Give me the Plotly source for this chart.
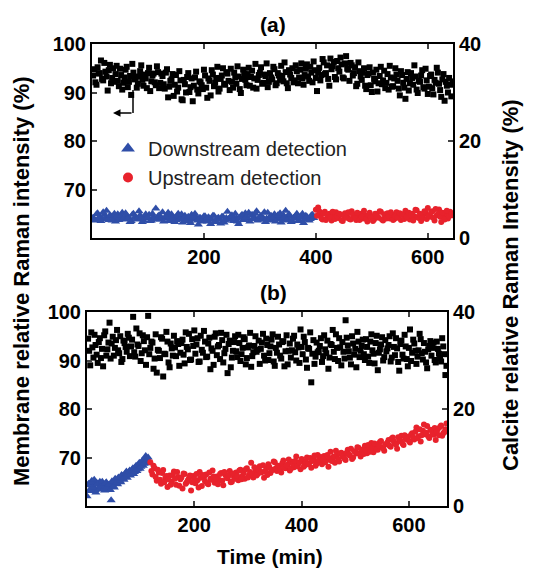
import plotly.graph_objects as go

# ---------------- data ----------------
# Panel (a): membrane relative Raman intensity (%)
# first sweep t = 2, 6, ..., 642 min ; second sweep t = 4, 8, ..., 644 min
mem_a = [
    93.5, 92.1, 95.2, 94.0, 92.8, 96.1, 93.3, 94.6, 91.9, 95.0,
    93.8, 92.4, 94.9, 90.6, 93.1, 95.3, 92.2, 89.5, 94.1, 93.0,
    91.8, 94.4, 92.6, 93.7, 90.9, 95.1, 92.3, 93.9, 91.5, 94.2,
    92.0, 93.4, 90.8, 94.8, 91.2, 92.7, 89.3, 93.6, 91.0, 92.5,
    88.4, 91.7, 93.2, 90.1, 92.9, 91.4, 94.3, 89.8, 92.1, 90.7,
    93.5, 88.9, 92.4, 94.6, 91.3, 93.0, 90.2, 92.8, 95.0, 91.6,
    93.9, 90.5, 92.2, 94.1, 91.8, 93.3, 89.9, 94.7, 92.6, 93.8,
    91.4, 94.5, 92.9, 90.8, 93.6, 95.2, 92.0, 93.4, 91.1, 94.0,
    92.7, 94.8, 91.9, 93.5, 95.5, 92.3, 94.2, 90.9, 93.7, 95.0,
    92.5, 94.4, 93.1, 96.0, 91.6, 94.9, 93.3, 95.3, 92.1, 94.6,
    90.3, 95.1, 93.6, 96.2, 94.0, 92.8, 97.0, 95.4, 93.2, 96.5,
    94.3, 95.8, 92.9, 97.5, 94.7, 96.1, 93.5, 95.2, 91.8, 94.4,
    92.6, 95.0, 90.7, 93.9, 91.5, 94.1, 92.3, 90.2, 93.4, 91.7,
    94.5, 92.0, 90.6, 93.1, 91.3, 95.0, 92.4, 89.4, 93.6, 91.0,
    92.8, 90.4, 94.0, 91.6, 93.3, 89.9, 92.2, 94.6, 90.8, 92.5,
    91.2, 93.7, 89.6, 92.0, 94.1, 90.5, 92.7, 88.3, 91.4, 93.0,
    89.2,
]
mem_a2 = [
    94.8, 91.6, 93.9, 96.6, 92.5, 94.3, 90.4, 95.7, 93.0, 92.2,
    95.5, 91.3, 93.6, 92.0, 94.7, 91.1, 93.4, 95.9, 92.7, 91.0,
    93.3, 95.6, 91.4, 92.9, 94.0, 90.3, 93.5, 92.1, 95.4, 90.9,
    93.9, 91.7, 94.1, 89.0, 92.4, 93.8, 91.6, 90.2, 94.4, 88.6,
    92.6, 90.0, 94.0, 91.1, 88.2, 93.1, 90.6, 92.3, 91.5, 94.7,
    91.0, 92.9, 89.4, 93.7, 92.0, 95.3, 90.8, 93.5, 91.8, 94.2,
    92.4, 94.9, 91.0, 93.1, 95.4, 90.7, 92.8, 93.9, 91.5, 95.1,
    93.2, 91.0, 95.9, 92.6, 94.1, 91.8, 93.7, 96.0, 92.2, 93.1,
    95.3, 91.5, 94.0, 92.6, 93.4, 96.2, 91.9, 94.6, 93.0, 92.1,
    95.6, 91.9, 94.7, 92.9, 93.6, 95.8, 92.4, 94.1, 96.4, 93.0,
    94.2, 92.5, 96.9, 93.8, 95.6, 91.4, 94.8, 96.3, 92.7, 95.0,
    97.2, 93.1, 96.0, 94.9, 92.4, 95.6, 94.0, 91.3, 96.2, 93.3,
    94.1, 91.4, 93.6, 95.2, 90.1, 92.8, 94.7, 91.9, 95.3, 92.5,
    90.9, 93.8, 95.5, 91.2, 92.9, 93.7, 90.8, 94.4, 92.0, 88.7,
    94.2, 91.9, 93.0, 95.6, 90.6, 92.4, 93.5, 91.1, 94.9, 89.7,
    93.4, 90.9, 92.6, 95.1, 91.8, 89.1, 93.8, 92.2, 90.0, 91.6,
    92.3,
]
t_mem_a = [2 + 4 * i for i in range(len(mem_a))]
t_mem_a2 = [4 + 4 * i for i in range(len(mem_a2))]

# Panel (a): calcite relative Raman intensity (%)
# downstream detection: t = 2..394 and 4..396 ; upstream detection: t = 400..644 and 402..642
cal_down_a = [
    4.2, 3.6, 5.1, 4.4, 3.9, 4.8, 5.6, 3.7, 4.5, 4.0,
    3.4, 4.9, 4.3, 5.2, 3.8, 4.6, 4.1, 3.5, 5.0, 4.2,
    3.9, 4.7, 3.3, 4.4, 4.0, 4.8, 3.6, 4.3, 6.1, 4.5,
    3.8, 5.3, 4.1, 4.7, 3.5, 4.9, 4.2, 3.7, 5.0, 4.4,
    3.2, 4.6, 4.0, 3.6, 4.8, 3.9, 4.3, 2.8, 4.1, 3.7,
    4.5, 3.4, 4.0, 3.8, 4.6, 3.3, 4.2, 3.0, 4.4, 3.6,
    5.4, 3.9, 4.7, 3.5, 4.1, 2.9, 4.5, 3.7, 5.1, 4.0,
    3.4, 4.8, 4.3, 5.5, 3.8, 4.6, 4.1, 3.3, 5.2, 4.4,
    3.6, 4.9, 3.9, 4.2, 3.2, 4.7, 5.6, 3.8, 4.5, 3.5,
    4.3, 5.0, 3.7, 4.4, 3.1, 4.6, 4.0, 3.9, 4.8,
]
cal_down_a2 = [
    3.8, 4.9, 4.1, 3.5, 5.3, 4.2, 3.9, 4.7, 3.6, 5.0,
    4.4, 3.7, 4.6, 3.9, 5.1, 4.0, 3.3, 4.8, 4.2, 3.8,
    5.5, 4.1, 3.6, 4.9, 4.3, 3.5, 5.0, 4.0, 3.8, 4.7,
    4.2, 3.4, 4.5, 5.2, 3.9, 4.1, 3.3, 4.6, 3.8, 4.9,
    4.0, 3.5, 4.4, 3.1, 4.2, 5.0, 3.6, 4.1, 3.4, 4.5,
    3.7, 4.3, 2.9, 4.6, 3.5, 4.0, 3.8, 4.4, 3.2, 4.1,
    3.9, 4.5, 3.6, 5.0, 3.4, 4.2, 4.8, 3.8, 4.3, 5.2,
    4.6, 3.9, 5.0, 3.6, 4.4, 3.8, 5.3, 4.0, 3.7, 4.6,
    4.2, 3.4, 4.7, 5.1, 3.9, 4.3, 3.6, 4.9, 3.3, 4.1,
    4.6, 3.5, 4.2, 5.0, 3.8, 4.4, 3.6, 4.7, 4.1,
]
t_down_a = [2 + 4 * i for i in range(len(cal_down_a))]
t_down_a2 = [4 + 4 * i for i in range(len(cal_down_a2))]

cal_up_a = [
    5.8, 6.3, 4.9, 3.8, 5.4, 4.2, 5.0, 3.6, 4.7, 5.3,
    4.1, 4.8, 3.5, 5.1, 4.4, 3.9, 5.5, 4.6, 3.7, 4.3,
    5.0, 4.0, 4.7, 3.4, 5.2, 4.5, 3.8, 4.9, 4.2, 5.4,
    3.6, 4.4, 5.1, 4.0, 4.8, 3.9, 5.3, 4.6, 3.7, 4.9,
    5.6, 4.3, 3.8, 5.0, 4.5, 5.7, 4.1, 3.5, 4.8, 5.2,
    6.2, 4.4, 5.5, 3.6, 4.7, 5.9, 3.3, 4.6, 5.1, 4.0,
    5.4, 4.7,
]
cal_up_a2 = [
    4.6, 5.5, 4.0, 5.1, 3.7, 4.8, 4.3, 5.4, 3.9, 4.5,
    5.0, 3.6, 4.6, 4.2, 5.3, 3.8, 4.9, 4.1, 5.2, 3.7,
    4.4, 5.6, 3.9, 4.7, 4.3, 3.5, 5.0, 4.4, 5.5, 3.8,
    4.9, 4.0, 4.6, 5.3, 3.7, 4.5, 4.2, 5.1, 4.8, 3.9,
    4.4, 5.2, 4.7, 3.6, 5.8, 4.3, 5.0, 4.1, 5.5, 3.9,
    4.6, 5.3, 4.2, 6.0, 4.9, 4.4, 5.2, 3.8, 5.6, 4.5,
    4.9,
]
t_up_a = [400 + 4 * i for i in range(len(cal_up_a))]
t_up_a2 = [402 + 4 * i for i in range(len(cal_up_a2))]

# Panel (b): membrane relative Raman intensity (%)
# t = 2, 6, ..., 670 min and t = 4, 8, ..., 668 min
mem_b = [
    94.5, 89.0, 92.7, 95.3, 91.2, 93.8, 90.5, 88.8, 96.0, 92.3,
    97.8, 93.5, 91.0, 94.2, 92.1, 95.0, 90.3, 93.6, 91.8, 94.7,
    92.9, 99.0, 90.8, 93.3, 95.6, 91.5, 94.0, 89.1, 99.2, 92.6,
    93.7, 90.4, 87.5, 92.0, 94.8, 86.7, 91.3, 93.9, 88.6, 92.5,
    95.1, 90.9, 93.4, 91.6, 94.3, 89.4, 92.8, 95.5, 90.2, 93.0,
    91.4, 94.6, 89.8, 92.2, 96.1, 90.7, 93.5, 88.2, 92.0, 94.9,
    91.1, 93.2, 95.7, 89.6, 92.4, 87.4, 94.1, 90.6, 93.8, 91.9,
    95.3, 89.9, 92.6, 94.4, 90.5, 93.1, 88.7, 91.7, 95.0, 92.2,
    89.3, 93.7, 91.0, 94.5, 90.1, 92.9, 95.4, 88.9, 91.6, 93.3,
    90.4, 94.0, 91.9, 89.2, 93.5, 92.1, 95.1, 90.0, 92.7, 96.4,
    91.3, 93.8, 88.5, 92.4, 85.5, 94.2, 90.8, 91.7, 93.0, 89.7,
    95.2, 91.5, 88.3, 93.4, 96.3, 90.3, 92.6, 94.6, 89.0, 91.8,
    98.3, 93.1, 90.6, 95.0, 91.2, 88.6, 93.9, 92.0, 94.3, 90.1,
    92.8, 89.5, 95.4, 91.4, 93.6, 88.0, 92.3, 94.8, 90.7, 91.9,
    93.2, 89.8, 95.6, 91.1, 92.5, 87.9, 94.1, 90.4, 92.9, 88.8,
    96.4, 91.6, 93.5, 89.3, 92.1, 94.4, 90.2, 91.8, 88.4, 93.0,
    91.0, 93.7, 89.6, 92.4, 90.5, 94.6, 91.3, 88.9,
]
mem_b2 = [
    92.0, 95.8, 90.6, 93.2, 89.5, 94.6, 92.4, 95.2, 91.0, 93.7,
    90.4, 94.9, 92.6, 96.3, 91.5, 89.7, 94.1, 92.8, 95.5, 90.9,
    94.3, 91.7, 96.6, 93.0, 89.9, 95.2, 92.1, 94.8, 91.3, 93.9,
    88.3, 95.4, 92.2, 90.5, 94.5, 91.4, 95.9, 89.6, 93.5, 91.0,
    92.7, 94.0, 88.9, 93.6, 91.2, 95.8, 92.3, 90.1, 94.4, 96.2,
    93.3, 89.7, 95.1, 91.6, 93.9, 90.8, 94.7, 92.5, 89.1, 95.6,
    92.9, 90.3, 94.2, 91.5, 95.3, 93.4, 88.6, 92.0, 95.0, 90.7,
    93.6, 91.3, 94.8, 89.2, 92.7, 95.7, 90.9, 93.0, 91.8, 94.1,
    92.4, 95.5, 90.0, 93.2, 91.5, 94.3, 89.8, 92.6, 94.9, 91.0,
    93.8, 88.8, 95.2, 92.0, 90.6, 94.5, 91.7, 93.3, 89.5, 92.8,
    94.9, 90.2, 92.6, 95.8, 91.4, 89.3, 93.7, 92.0, 94.6, 90.9,
    92.3, 94.1, 90.6, 93.2, 91.8, 95.4, 89.9, 92.7, 93.8, 90.4,
    94.7, 91.9, 89.2, 93.5, 92.4, 95.9, 90.7, 93.0, 91.3, 94.4,
    90.8, 93.9, 92.1, 89.4, 95.1, 91.6, 93.3, 90.0, 94.2, 92.5,
    95.0, 90.6, 92.8, 94.6, 89.7, 93.4, 91.2, 95.3, 90.3, 92.6,
    89.9, 94.3, 92.0, 90.8, 95.5, 91.5, 93.6, 89.6, 92.3, 94.0,
    92.6, 90.1, 93.9, 91.4, 89.8, 92.9, 87.0,
]
t_mem_b = [2 + 4 * i for i in range(len(mem_b))]
t_mem_b2 = [4 + 4 * i for i in range(len(mem_b2))]

# Panel (b): calcite
# downstream: t = 0, 3, ..., 114 and 1.5, 4.5, ..., 112.5 ; upstream: t = 118..670 and 120..668
cal_down_b = [
    2.0, 4.6, 3.5, 5.2, 4.0, 3.3, 4.8, 3.7, 5.0, 3.9,
    4.4, 3.2, 4.9, 3.6, 4.2, 1.2, 4.7, 3.8, 5.3, 4.5,
    5.6, 4.9, 6.2, 5.4, 6.8, 5.8, 7.0, 6.3, 7.5, 6.6,
    8.0, 7.2, 8.5, 7.7, 9.1, 8.3, 9.6, 8.8, 10.0,
]
cal_down_b2 = [
    4.3, 3.1, 4.9, 3.8, 5.4, 2.8, 4.5, 3.4, 4.1, 5.0,
    3.6, 4.7, 3.9, 4.4, 3.3, 5.1, 4.0, 5.6, 4.8, 5.9,
    5.2, 6.4, 5.7, 6.0, 7.1, 6.5, 7.3, 6.8, 7.8, 7.0,
    8.3, 7.6, 8.9, 8.1, 9.4, 8.7, 10.3, 9.7,
]
t_down_b = [3 * i for i in range(len(cal_down_b))]
t_down_b2 = [1.5 + 3 * i for i in range(len(cal_down_b2))]

cal_up_b = [
    9.0, 6.5, 7.8, 5.2, 6.9, 4.6, 7.4, 5.8, 3.9, 6.3,
    5.0, 7.1, 4.4, 6.0, 5.5, 3.6, 6.6, 4.9, 5.7, 3.2,
    6.2, 4.7, 5.3, 7.0, 4.1, 5.9, 6.5, 4.5, 5.6, 7.3,
    4.8, 6.1, 5.4, 6.8, 4.3, 6.4, 5.7, 7.2, 5.0, 6.0,
    6.9, 5.3, 7.5, 6.2, 5.6, 7.8, 6.4, 8.9, 5.9, 7.1,
    6.6, 8.2, 7.0, 5.8, 7.7, 8.6, 6.8, 7.4, 9.0, 7.2,
    8.1, 6.9, 9.4, 7.8, 8.5, 7.3, 9.1, 8.0, 10.2, 8.7,
    7.6, 9.3, 8.4, 10.0, 8.8, 7.9, 9.6, 8.3, 10.5, 9.1,
    8.6, 10.3, 9.4, 8.1, 11.2, 9.8, 8.9, 10.6, 9.2, 11.0,
    10.1, 9.5, 11.6, 10.4, 9.7, 11.3, 10.8, 12.0, 10.2, 11.5,
    12.4, 10.9, 11.8, 13.0, 11.1, 12.3, 11.6, 13.2, 12.1, 11.4,
    12.8, 13.6, 12.2, 14.1, 12.9, 11.8, 13.4, 14.5, 12.6, 13.8,
    14.3, 13.1, 15.0, 13.7, 16.2, 14.4, 13.3, 15.5, 14.8, 16.5,
    14.0, 15.6, 14.7, 13.6, 15.9, 16.3, 14.5, 15.2, 17.0,
]
cal_up_b2 = [
    7.2, 8.3, 6.0, 7.5, 5.4, 6.8, 4.9, 6.2, 5.5, 4.4,
    6.4, 5.6, 7.0, 4.2, 5.9, 6.7, 4.6, 5.3, 6.3, 4.9,
    5.5, 6.6, 3.8, 5.8, 6.4, 5.1, 4.7, 6.9, 5.4, 6.1,
    5.7, 4.5, 6.6, 5.2, 7.0, 5.8, 6.3, 4.9, 6.7, 5.6,
    6.2, 7.3, 5.5, 6.8, 7.6, 5.9, 7.0, 6.5, 8.0, 6.3,
    7.5, 6.9, 8.4, 7.1, 6.4, 8.0, 7.4, 9.2, 7.8, 8.3,
    7.4, 8.8, 7.9, 8.4, 9.6, 7.7, 8.6, 9.3, 8.2, 9.0,
    9.7, 8.1, 9.0, 8.6, 9.9, 9.3, 10.4, 8.7, 9.5, 10.1,
    9.6, 9.0, 10.5, 9.9, 9.3, 10.2, 11.4, 9.7, 10.8, 10.3,
    9.8, 11.0, 10.6, 11.8, 10.0, 11.2, 12.1, 10.9, 11.6, 10.7,
    11.5, 12.6, 11.2, 12.0, 12.9, 11.7, 12.5, 13.4, 11.9, 12.7,
    13.1, 12.4, 13.9, 13.3, 12.7, 14.2, 13.5, 12.9, 14.6, 13.9,
    13.4, 14.7, 14.1, 15.3, 14.0, 15.8, 14.6, 16.8, 15.1, 14.4,
    15.7, 14.9, 16.1, 15.3, 14.6, 16.6, 15.0, 15.8,
]
t_up_b = [118 + 4 * i for i in range(len(cal_up_b))]
t_up_b2 = [120 + 4 * i for i in range(len(cal_up_b2))]

mem_ticks = [70, 80, 90, 100]
cal_ticks = [0, 20, 40]
time_ticks = [200, 400, 600]
legend_names = ["Downstream detection", "Upstream detection"]

# ---------------- styling ----------------
# the page body keeps an 8 px default margin, so the figure is drawn 8 px in
PAGE_OFF = 8
W, H = 547 - PAGE_OFF, 569 - PAGE_OFF
FONT = "Liberation Sans, Arial, sans-serif"
BLUE = "#2f4ea8"
RED = "#e8222c"
BLACK = "#000000"


def px_x(p):
    return (p - PAGE_OFF) / W


def px_y(p):
    return 1 - (p - PAGE_OFF) / H


fig = go.Figure()

sq = dict(symbol="square", size=6, color=BLACK)
tri = dict(symbol="triangle-up", size=8, color=BLUE)
cir = dict(symbol="circle", size=6, color=RED)

# membrane (left axes)
fig.add_trace(go.Scatter(x=t_mem_a + t_mem_a2, y=mem_a + mem_a2, mode="markers",
                         xaxis="x", yaxis="y", marker=sq, showlegend=False))
fig.add_trace(go.Scatter(x=t_mem_b + t_mem_b2, y=mem_b + mem_b2, mode="markers",
                         xaxis="x2", yaxis="y3", marker=sq, showlegend=False))
# calcite (right axes)
fig.add_trace(go.Scatter(x=t_down_a + t_down_a2, y=cal_down_a + cal_down_a2, mode="markers",
                         xaxis="x", yaxis="y2", marker=tri, showlegend=False))
fig.add_trace(go.Scatter(x=t_up_a + t_up_a2, y=cal_up_a + cal_up_a2, mode="markers",
                         xaxis="x", yaxis="y2", marker=cir, showlegend=False))
fig.add_trace(go.Scatter(x=t_down_b + t_down_b2, y=cal_down_b + cal_down_b2, mode="markers",
                         xaxis="x2", yaxis="y4", marker=tri, showlegend=False))
fig.add_trace(go.Scatter(x=t_up_b + t_up_b2, y=cal_up_b + cal_up_b2, mode="markers",
                         xaxis="x2", yaxis="y4", marker=cir, showlegend=False))
# legend entries
fig.add_trace(go.Scatter(x=[None], y=[None], mode="markers", xaxis="x", yaxis="y2",
                         name=legend_names[0],
                         marker=dict(symbol="triangle-up", size=12, color=BLUE)))
fig.add_trace(go.Scatter(x=[None], y=[None], mode="markers", xaxis="x", yaxis="y2",
                         name=legend_names[1],
                         marker=dict(symbol="circle", size=10, color=RED)))

tickfont = dict(family=FONT, size=20, color="black", weight="bold")
common_x = dict(tickvals=time_ticks, ticks="inside", ticklen=5, tickwidth=2,
                showline=True, linewidth=2, linecolor="black", mirror="ticks",
                showgrid=False, zeroline=False, tickfont=tickfont, automargin=False)
common_y = dict(ticks="inside", ticklen=5, tickwidth=2, showline=True, linewidth=2,
                linecolor="black", showgrid=False, zeroline=False, tickfont=tickfont,
                automargin=False)

fig.update_layout(
    width=W, height=H,
    margin=dict(l=0, r=0, t=0, b=0, autoexpand=False),
    plot_bgcolor="white", paper_bgcolor="white",
    font=dict(family=FONT, color="black"),
    xaxis=dict(domain=[px_x(92), px_x(453)], range=[0, 645], anchor="y", **common_x),
    yaxis=dict(domain=[px_y(238), px_y(44)], range=[60, 100], tickvals=mem_ticks,
               anchor="x", mirror=True, **common_y),
    yaxis2=dict(range=[0, 40], tickvals=cal_ticks, overlaying="y", side="right",
                anchor="x", **common_y),
    xaxis2=dict(domain=[px_x(87), px_x(447)], range=[0, 671], anchor="y3", **common_x),
    yaxis3=dict(domain=[px_y(506), px_y(312)], range=[60, 100], tickvals=mem_ticks,
                anchor="x2", mirror=True, **common_y),
    yaxis4=dict(range=[0, 40], tickvals=cal_ticks, overlaying="y3", side="right",
                anchor="x2", **common_y),
    legend=dict(x=px_x(108), y=px_y(129), xanchor="left", yanchor="top",
                bgcolor="rgba(0,0,0,0)", font=dict(family=FONT, size=20, color="#222"),
                tracegroupgap=0, itemwidth=30),
)

ann_font = dict(family=FONT, size=21, color="black", weight="bold")
mid = dict(xref="paper", yref="paper", showarrow=False, xanchor="center", yanchor="middle")
fig.add_annotation(text="(a)", x=px_x(273), y=px_y(25), font=ann_font, **mid)
fig.add_annotation(text="(b)", x=px_x(273), y=px_y(292), font=ann_font, **mid)
fig.add_annotation(text="Time (min)", x=px_x(270), y=px_y(556), font=ann_font, **mid)
title_font = dict(family=FONT, size=22, color="black", weight="bold")
fig.add_annotation(text="Membrane relative Raman intensity (%)", x=px_x(22), y=px_y(281),
                   textangle=-90, font=title_font, **mid)
fig.add_annotation(text="Calcite relative Raman Intensity (%)", x=px_x(510), y=px_y(285),
                   textangle=-90, font=title_font, **mid)

# bent arrow pointing to the left axis
fig.add_shape(type="line", xref="paper", yref="paper",
              x0=px_x(133), x1=px_x(133), y0=px_y(90), y1=px_y(113),
              line=dict(color="black", width=1.5))
fig.add_annotation(x=px_x(113), y=px_y(113), xref="paper", yref="paper", text="",
                   showarrow=True, ax=20, ay=0, arrowhead=2, arrowsize=1, arrowwidth=1.5,
                   arrowcolor="black")

fig.write_html("out.html")
